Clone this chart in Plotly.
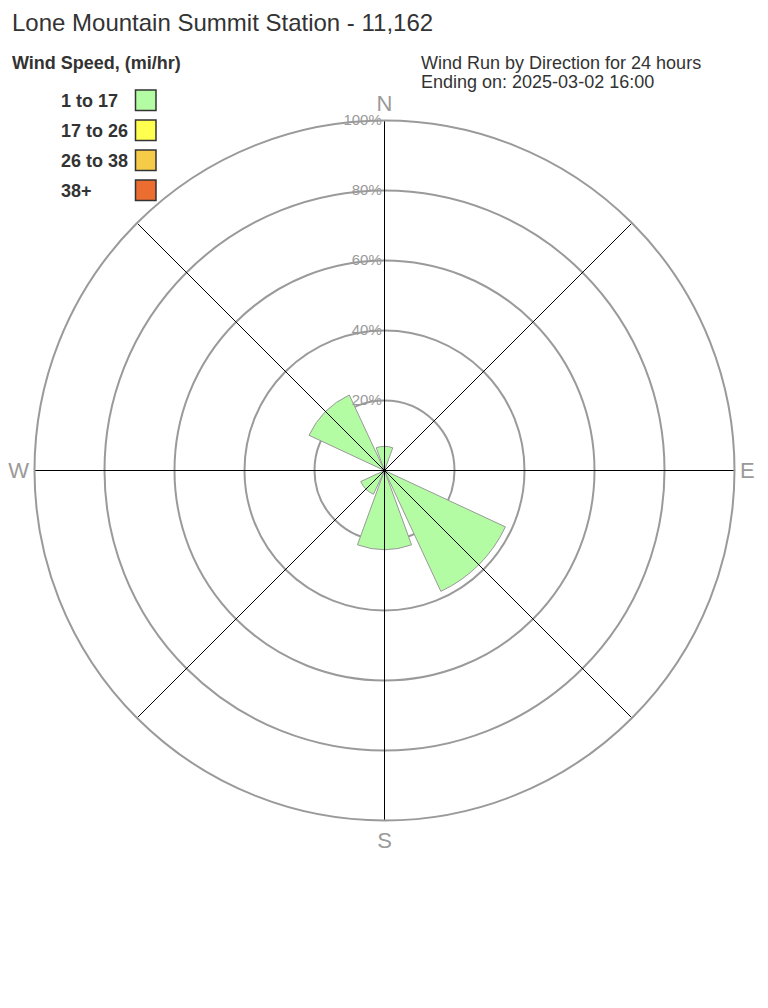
import plotly.graph_objects as go

# ---- data ----
DIRECTIONS = ["N", "NE", "E", "SE", "S", "SW", "W", "NW"]
DIR_DEGREES = [0, 45, 90, 135, 180, 225, 270, 315]
SPEED_BINS = ["1 to 17", "17 to 26", "26 to 38", "38+"]
SPEED_COLORS = ["#b3fca3", "#ffff4f", "#f6cb47", "#eb6d2f"]
PCT_1_17 = [6.9, 0, 0, 38.1, 22.6, 7.5, 0, 23.8]
PCT_17_26 = [0, 0, 0, 0, 0, 0, 0, 0]
PCT_26_38 = [0, 0, 0, 0, 0, 0, 0, 0]
PCT_38P = [0, 0, 0, 0, 0, 0, 0, 0]
SERIES = [PCT_1_17, PCT_17_26, PCT_26_38, PCT_38P]
RADIAL_TICKS = [20, 40, 60, 80, 100]
RADIAL_LABELS = ["20%", "40%", "60%", "80%", "100%"]
COMPASS_DEG = [0, 90, 180, 270]
COMPASS_LABELS = ["N", "E", "S", "W"]
SPOKE_DEG = [0, 45, 90, 135, 180, 225, 270, 315]

TITLE = "Lone Mountain Summit Station - 11,162"
SUBTITLE_1 = "Wind Run by Direction for 24 hours"
SUBTITLE_2 = "Ending on: 2025-03-02 16:00"
LEGEND_TITLE = "Wind Speed, (mi/hr)"

FONT = "Liberation Sans, Arial, sans-serif"
PAGE_OFF = 8                 # default body margin of the html page
W, H = 768 - 2 * PAGE_OFF, 1008 - 2 * PAGE_OFF


def px(x):
    return (x - PAGE_OFF) / W


def py(y):
    return 1 - (y - PAGE_OFF) / H


fig = go.Figure()

for name, color, vals in zip(SPEED_BINS, SPEED_COLORS, SERIES):
    fig.add_trace(go.Barpolar(
        r=vals, theta=DIR_DEGREES, width=[40] * len(DIR_DEGREES), name=name,
        marker=dict(color=color, line=dict(color="#999999", width=1)),
        showlegend=False, hoverinfo="skip",
    ))

# spokes drawn above the bars
r_sp, t_sp = [], []
for a in SPOKE_DEG:
    r_sp += [0, RADIAL_TICKS[-1], None]
    t_sp += [a, a, None]
fig.add_trace(go.Scatterpolar(
    r=r_sp, theta=t_sp, mode="lines", line=dict(color="black", width=1),
    showlegend=False, hoverinfo="skip",
))

# polar circle in page pixels: center (384.5, 470.5), radius 350
cx, cy, rad = 384.5, 470.5, 350
fig.update_layout(
    width=W, height=H,
    margin=dict(l=0, r=0, t=0, b=0),
    paper_bgcolor="white", plot_bgcolor="white",
    font=dict(family=FONT, color="#333333"),
    polar=dict(
        domain=dict(x=[px(cx - rad), px(cx + rad)],
                    y=[py(cy + rad), py(cy - rad)]),
        bgcolor="white",
        barmode="stack",
        radialaxis=dict(
            range=[0, 100], tickvals=RADIAL_TICKS, ticktext=RADIAL_LABELS,
            angle=90, tickangle=90, side="counterclockwise",
            showline=False, ticks="",
            gridcolor="#9a9a9a", gridwidth=1.5,
            tickfont=dict(size=15, color="#9a9a9a", family=FONT),
        ),
        angularaxis=dict(
            direction="clockwise", rotation=90,
            tickvals=COMPASS_DEG, ticktext=COMPASS_LABELS,
            showgrid=False, ticks="",
            showline=True, linecolor="#9a9a9a", linewidth=2,
            tickfont=dict(size=22, color="#9a9a9a", family=FONT),
        ),
    ),
)

ann = [
    dict(text=TITLE, x=px(10), y=py(22), xanchor="left", yanchor="middle",
         font=dict(size=24, color="#333333")),
    dict(text="<b>" + LEGEND_TITLE + "</b>", x=px(10), y=py(63),
         xanchor="left", yanchor="middle", font=dict(size=18, color="#333333")),
    dict(text=SUBTITLE_1, x=px(419), y=py(63), xanchor="left", yanchor="middle",
         font=dict(size=18, color="#333333")),
    dict(text=SUBTITLE_2, x=px(419), y=py(82), xanchor="left", yanchor="middle",
         font=dict(size=18, color="#333333")),
]
shapes = []
for i, (name, color) in enumerate(zip(SPEED_BINS, SPEED_COLORS)):
    ytop = 90 + 30 * i
    shapes.append(dict(type="rect", xref="paper", yref="paper",
                       x0=px(135.5), x1=px(156), y0=py(ytop), y1=py(ytop + 20.5),
                       fillcolor=color, line=dict(color="#333333", width=1.5)))
    ann.append(dict(text="<b>" + name + "</b>", x=px(59), y=py(ytop + 11),
                    xanchor="left", yanchor="middle",
                    font=dict(size=18, color="#333333")))
for a in ann:
    a.update(xref="paper", yref="paper", showarrow=False)
fig.update_layout(annotations=ann, shapes=shapes)

fig.write_html("out.html", config={"displayModeBar": False})
